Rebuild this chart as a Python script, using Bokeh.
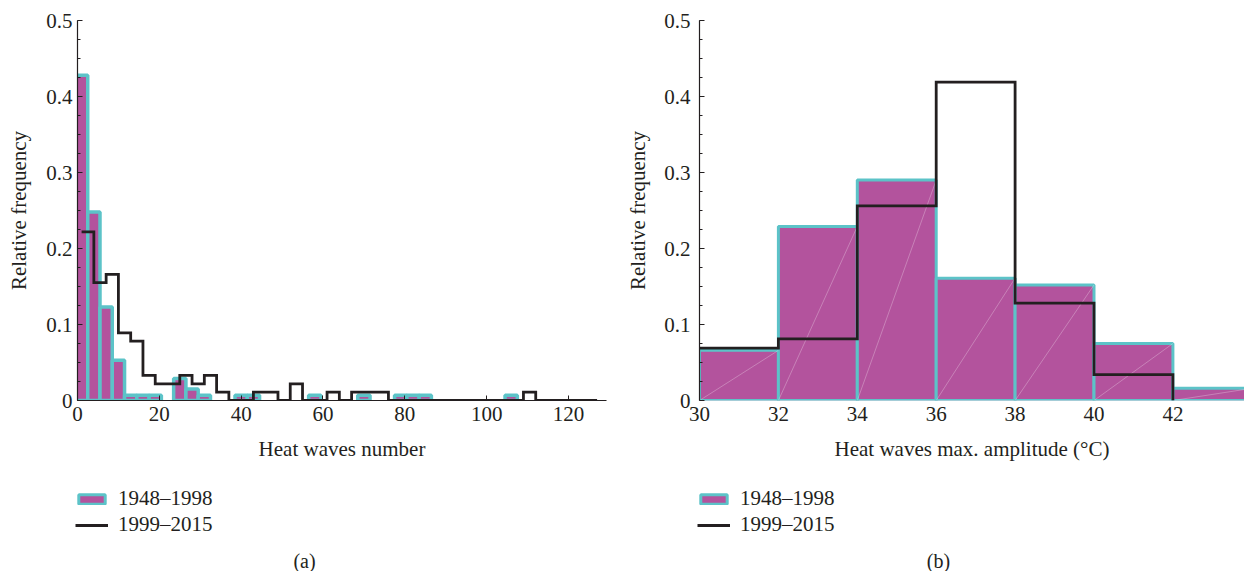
import numpy as np
from bokeh.plotting import figure
from bokeh.models import (Range1d, SingleIntervalTicker, Legend, LegendItem, Label)
from bokeh.layouts import row, column
from bokeh.embed import file_html
from bokeh.resources import INLINE

FONT = "Liberation Serif"
MAGENTA = "#B3539D"
CYAN = "#5CC3C8"
DARK = "#231F20"
FS = "21px"

# ---------------- Panel (a): heat waves number ----------------
a_bin_width = 3
a_old_first_edge = -0.5          # 1948-1998 bins start here
a_old_freq = [0.428, 0.248, 0.123, 0.053, 0.007, 0.007, 0.007, 0.0, 0.029, 0.015,
              0.007, 0.0, 0.0, 0.007, 0.007, 0.0, 0.0, 0.0, 0.0, 0.007,
              0.0, 0.0, 0.0, 0.007, 0.0, 0.0, 0.007, 0.007, 0.007, 0.0,
              0.0, 0.0, 0.0, 0.0, 0.0, 0.007]
a_new_first_edge = 1             # 1999-2015 bins start here
a_new_freq = [0.222, 0.155, 0.166, 0.089, 0.078, 0.033, 0.022, 0.022, 0.033, 0.022,
              0.033, 0.011, 0.0, 0.0, 0.011, 0.011, 0.0, 0.022, 0.0, 0.0,
              0.011, 0.0, 0.011, 0.011, 0.011, 0.0, 0.0, 0.0, 0.0, 0.0,
              0.0, 0.0, 0.0, 0.0, 0.0, 0.0, 0.011, 0.0, 0.0, 0.0,
              0.0, 0.0]

# ---------------- Panel (b): max amplitude ----------------
b_edges = [30, 32, 34, 36, 38, 40, 42, 44]
b_old_freq = [0.066, 0.229, 0.290, 0.161, 0.152, 0.075, 0.016]
b_new_freq = [0.069, 0.081, 0.256, 0.419, 0.128, 0.034]

series_labels = ["1948\u20131998", "1999\u20132015"]
captions = ["(a)", "(b)"]


def step_path(edges, vals):
    xs, ys = [], []
    for i, v in enumerate(vals):
        xs += [edges[i], edges[i + 1]]
        ys += [v, v]
    xs.append(edges[len(vals)])
    ys.append(0.0)
    return xs, ys


def style(p, xlabel, ylabel, xtick_interval, ystand, ylabstand):
    p.outline_line_color = None
    p.grid.visible = False
    p.background_fill_color = "white"
    p.border_fill_color = "white"
    for ax in (p.xaxis[0], p.yaxis[0]):
        ax.axis_line_color = DARK
        ax.axis_line_width = 1.2
        ax.major_tick_line_color = DARK
        ax.minor_tick_line_color = DARK
        ax.major_tick_in = 5
        ax.major_tick_out = 0
        ax.minor_tick_in = 3
        ax.minor_tick_out = 0
        ax.major_label_text_font = FONT
        ax.major_label_text_font_size = FS
        ax.major_label_text_color = DARK
        ax.axis_label_text_font = FONT
        ax.axis_label_text_font_size = FS
        ax.axis_label_text_font_style = "normal"
        ax.axis_label_text_color = DARK
    p.xaxis[0].axis_label = xlabel
    p.yaxis[0].axis_label = ylabel
    p.xaxis[0].ticker = SingleIntervalTicker(interval=xtick_interval, num_minor_ticks=0)
    p.yaxis[0].ticker = SingleIntervalTicker(interval=0.1, num_minor_ticks=4)
    p.xaxis[0].major_label_standoff = 6
    p.xaxis[0].axis_label_standoff = 13
    p.yaxis[0].major_label_standoff = ystand
    p.yaxis[0].axis_label_standoff = ylabstand
    p.yaxis[0].major_label_orientation = "horizontal"
    p.yaxis[0].formatter.use_scientific = False


def legend_panel(bar_kw, line_xy, bar_width, caption, caption_x):
    f = figure(width=622, height=101, output_backend="svg", toolbar_location=None,
               x_range=Range1d(0, 622), y_range=Range1d(0, 101),
               x_axis_type=None, y_axis_type=None,
               min_border_left=0, min_border_right=0, min_border_top=0,
               min_border_bottom=0)
    f.outline_line_color = None
    f.background_fill_color = "white"
    f.border_fill_color = "white"
    f.grid.visible = False
    # hidden copies of the series: only used to draw the legend keys
    bars = f.quad(**bar_kw, bottom=0, fill_color=MAGENTA,
                  line_color=CYAN, line_width=bar_width, visible=False)
    line = f.line(x=line_xy[0], y=line_xy[1], line_color=DARK, line_width=2.8,
                  visible=False)
    leg = Legend(items=[LegendItem(label=series_labels[0], renderers=[bars]),
                        LegendItem(label=series_labels[1], renderers=[line])],
                 location=(75, 34), orientation="vertical",
                 glyph_width=33, glyph_height=12, label_standoff=10,
                 spacing=1, padding=0, margin=0,
                 border_line_color=None, background_fill_alpha=0,
                 inactive_fill_alpha=0,
                 label_text_font=FONT, label_text_font_size=FS,
                 label_text_color=DARK)
    f.add_layout(leg, "center")
    f.add_layout(Label(x=caption_x, y=11, text=caption, text_align="center",
                       text_baseline="middle", text_font=FONT,
                       text_font_size="20px", text_color=DARK))
    return f


# ---------- figure (a) ----------
pa = figure(width=622, height=470, output_backend="svg", toolbar_location=None,
            x_range=Range1d(0, 129.3), y_range=Range1d(0, 0.5),
            min_border_left=77, min_border_right=16, min_border_top=20,
            min_border_bottom=70)
style(pa, "Heat waves number", "Relative frequency", 20, 5, 12)

a_old_left = np.array([a_old_first_edge + a_bin_width * i for i in range(len(a_old_freq))])
a_old_top = np.array(a_old_freq)
mask = a_old_top > 0
a_bar_kw = dict(left=a_old_left[mask], right=a_old_left[mask] + a_bin_width,
                top=a_old_top[mask])
pa.quad(**a_bar_kw, bottom=0, fill_color=MAGENTA, line_color=CYAN, line_width=3.5)
a_new_edges = [a_new_first_edge + a_bin_width * i for i in range(len(a_new_freq) + 1)]
a_line_xy = step_path(a_new_edges, a_new_freq)
pa.line(a_line_xy[0], a_line_xy[1], line_color=DARK, line_width=2.8, line_join="miter")

# ---------- figure (b) ----------
pb = figure(width=622, height=470, output_backend="svg", toolbar_location=None,
            x_range=Range1d(30, 43.815), y_range=Range1d(0, 0.5),
            min_border_left=77, min_border_right=0, min_border_top=20,
            min_border_bottom=70)
style(pb, "Heat waves max. amplitude (\u00b0C)", "Relative frequency", 2, 9, 11)
pb.xaxis[0].axis_line_color = None
pb.xaxis[0].major_tick_line_color = None

b_left = np.array(b_edges[:-1], dtype=float)
b_right = np.array(b_edges[1:], dtype=float)
b_top = np.array(b_old_freq)
b_bar_kw = dict(left=b_left, right=b_right, top=b_top)
pb.quad(**b_bar_kw, bottom=0, fill_color=MAGENTA, line_color=CYAN, line_width=3)
pb.segment(x0=b_left, y0=0, x1=b_right, y1=b_top, line_color="white",
           line_alpha=0.35, line_width=0.8)
b_line_xy = step_path(b_edges, b_new_freq)
pb.line(b_line_xy[0], b_line_xy[1], line_color=DARK, line_width=2.8, line_join="miter")

la = legend_panel(a_bar_kw, a_line_xy, 3, captions[0], 304)
lb = legend_panel(b_bar_kw, b_line_xy, 3, captions[1], 316)

layout = column(row(pa, pb), row(la, lb))
open("out.html", "w").write(file_html(layout, INLINE))
